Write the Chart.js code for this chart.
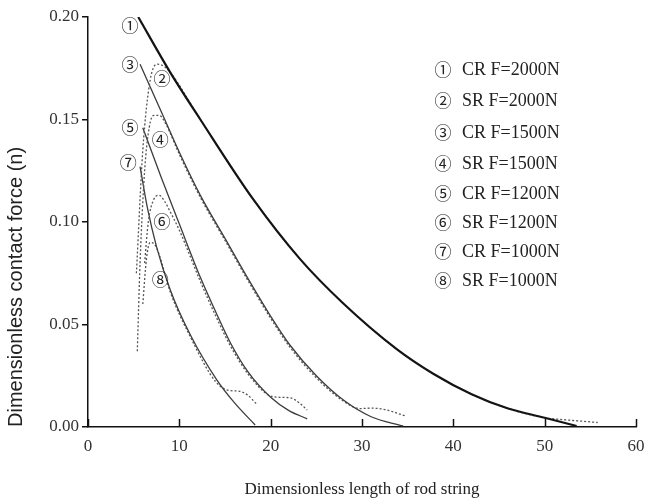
<!DOCTYPE html>
<html>
<head>
<meta charset="utf-8">
<script src="https://cdn.jsdelivr.net/npm/chart.js@4.4.0/dist/chart.umd.min.js"></script>
<style>
	html, body { margin: 0; padding: 0; background: #fff; }
</style>
</head>
<body>
<canvas id="myChart" width="648" height="500"></canvas>
<script>
// values (x = dimensionless length, y = dimensionless force)
var xCr2000 = [5.5, 9, 12.3, 18.1, 23.2, 27.9, 33.8, 37.8, 42, 46, 50, 53.5];
var yCr2000 = [0.200, 0.173, 0.150, 0.111, 0.082, 0.0605, 0.038, 0.026, 0.016, 0.009, 0.0045, 0.0005];
var xSr2000 = [5.3, 6.0, 6.8, 7.6, 8.3, 9, 12.3, 18.1, 23.2, 27.9, 33.8, 37.8, 42, 46, 50, 52, 55.8];
var ySr2000 = [0.075, 0.135, 0.169, 0.177, 0.176, 0.173, 0.150, 0.111, 0.082, 0.0605, 0.038, 0.026, 0.016, 0.009, 0.0045, 0.0036, 0.0022];

var xCr1500 = [5.7, 8, 10, 12.3, 15, 17.7, 20, 22.1, 25, 28, 31, 34.5];
var yCr1500 = [0.177, 0.154, 0.134, 0.113, 0.092, 0.071, 0.054, 0.040, 0.025, 0.013, 0.005, 0.0005];
var xSr1500 = [5.4, 5.7, 6.2, 6.7, 7.2, 7.8, 8.5, 10, 12.3, 15, 17.7, 20, 22.1, 25, 28, 29.8, 31, 32.5, 34.7];
var ySr1500 = [0.037, 0.080, 0.125, 0.146, 0.152, 0.152, 0.148, 0.133, 0.112, 0.091, 0.070, 0.053, 0.039, 0.024, 0.0125, 0.009, 0.0092, 0.0085, 0.0055];

var xCr1200 = [6.0, 8, 10, 12.3, 14, 15.6, 17.5, 20, 22, 24];
var yCr1200 = [0.146, 0.122, 0.099, 0.073, 0.056, 0.041, 0.027, 0.0145, 0.008, 0.004];
var xSr1200 = [6.2, 6.6, 7.2, 7.8, 8.4, 9, 10, 12.3, 14, 15.6, 17.5, 19.8, 21, 22.2, 23.2, 24];
var ySr1200 = [0.080, 0.100, 0.111, 0.113, 0.110, 0.105, 0.096, 0.071, 0.054, 0.0395, 0.026, 0.0155, 0.0145, 0.0142, 0.0115, 0.0083];

var xCr1000 = [5.7, 6.5, 7.5, 9, 11.2, 14.1, 16, 18.3];
var yCr1000 = [0.127, 0.107, 0.088, 0.067, 0.045, 0.023, 0.012, 0.001];
var xSr1000 = [6.0, 6.4, 6.8, 7.3, 7.8, 9, 11.2, 14, 15.5, 16.5, 17.5, 18.5];
var ySr1000 = [0.060, 0.082, 0.090, 0.089, 0.084, 0.066, 0.044, 0.022, 0.0178, 0.0175, 0.0155, 0.011];

var legendLabels = ['\u2460 CR F=2000N', '\u2461 SR F=2000N', '\u2462 CR F=1500N', '\u2463 SR F=1500N',
	'\u2464 CR F=1200N', '\u2465 SR F=1200N', '\u2466 CR F=1000N', '\u2467 SR F=1000N'];

// circled tags next to the curves, in data units
var tagText = ['\u2460', '\u2462', '\u2461', '\u2464', '\u2463', '\u2466', '\u2465', '\u2467'];
var tagX = [4.6, 4.6, 8.1, 4.6, 7.9, 4.4, 8.1, 7.9];
var tagY = [0.196, 0.177, 0.170, 0.146, 0.140, 0.129, 0.100, 0.072];

var xTicks = [0, 10, 20, 30, 40, 50, 60];

function pts(xs, ys) {
	return xs.map(function(x, i) {
		return { x: x, y: ys[i] };
	});
}

function cr(label, xs, ys, w, c) {
	return { label: label, data: pts(xs, ys), borderColor: c, borderWidth: w, pointRadius: 0, cubicInterpolationMode: 'monotone', fill: false };
}

function sr(label, xs, ys) {
	return { label: label, data: pts(xs, ys), borderColor: '#555', borderWidth: 1.3, borderDash: [2, 2], pointRadius: 0, cubicInterpolationMode: 'monotone', fill: false };
}

var circleFont = '17px "Noto Sans CJK JP"';

var extras = {
	id: 'extras',
	afterDatasetsDraw: function(chart) {
		var ctx = chart.ctx, xs = chart.scales.x, ys = chart.scales.y, area = chart.chartArea;
		ctx.save();
		// x ticks point up into the plot
		ctx.strokeStyle = '#111';
		ctx.lineWidth = 1.5;
		xTicks.forEach(function(v) {
			var px = Math.round(xs.getPixelForValue(v)) + 0.5;
			ctx.beginPath();
			ctx.moveTo(px, area.bottom);
			ctx.lineTo(px, area.bottom - 8);
			ctx.stroke();
		});

		ctx.fillStyle = '#222';
		ctx.textBaseline = 'middle';
		ctx.textAlign = 'center';
		ctx.font = circleFont;
		for (var i = 0; i < tagText.length; i++) {
			ctx.fillText(tagText[i], xs.getPixelForValue(tagX[i]), ys.getPixelForValue(tagY[i]));
		}

		// legend
		var rows = [70, 101, 133, 164, 194, 223, 252, 281];
		for (var j = 0; j < legendLabels.length; j++) {
			ctx.textAlign = 'center';
			ctx.font = circleFont;
			ctx.fillText(legendLabels[j].charAt(0), 443, rows[j]);
			ctx.textAlign = 'left';
			ctx.font = '18px "Liberation Serif"';
			ctx.fillText(legendLabels[j].slice(2), 462, rows[j]);
		}
		ctx.restore();
	}
};

var tickFont = { family: 'Liberation Serif', size: 17 };

var ctx = document.getElementById('myChart').getContext('2d');
var myChart = new Chart(ctx, {
	type: 'line',
	data: {
		datasets: [
			cr('CR F=2000N', xCr2000, yCr2000, 2.2, '#141414'),
			sr('SR F=2000N', xSr2000, ySr2000),
			cr('CR F=1500N', xCr1500, yCr1500, 1.3, '#3c3c3c'),
			sr('SR F=1500N', xSr1500, ySr1500),
			cr('CR F=1200N', xCr1200, yCr1200, 1.3, '#3c3c3c'),
			sr('SR F=1200N', xSr1200, ySr1200),
			cr('CR F=1000N', xCr1000, yCr1000, 1.3, '#3c3c3c'),
			sr('SR F=1000N', xSr1000, ySr1000)
		]
	},
	options: {
		responsive: false,
		animation: false,
		layout: { padding: { top: 17, right: 12, left: 0, bottom: 0 } },
		plugins: {
			legend: { display: false },
			tooltip: { enabled: false }
		},
		scales: {
			x: {
				type: 'linear',
				min: 0,
				max: 60,
				ticks: { stepSize: 10, font: tickFont, color: '#333', padding: 1, maxRotation: 0 },
				grid: { display: false },
				border: { color: '#111', width: 1.5 },
				title: {
					display: true,
					text: 'Dimensionless length of rod string',
					font: { family: 'Liberation Serif', size: 17 },
					color: '#222',
					padding: { top: 0, bottom: 0 }
				},
				afterFit: function(s) { s.height = 73; }
			},
			y: {
				min: 0,
				max: 0.2,
				ticks: {
					stepSize: 0.05,
					font: tickFont,
					color: '#333',
					padding: 3,
					callback: function(v) { return v.toFixed(2); }
				},
				grid: { drawOnChartArea: false, drawTicks: true, tickLength: 6, color: '#111', lineWidth: 1.5 },
				border: { color: '#111', width: 1.5 },
				title: {
					display: true,
					align: 'start',
					text: 'Dimensionless contact force (n)',
					font: { family: 'Liberation Sans', size: 20 },
					color: '#222',
					padding: { top: 4, bottom: 0 }
				},
				afterFit: function(s) { s.width = 88; }
			}
		}
	},
	plugins: [extras]
});
</script>
</body>
</html>
